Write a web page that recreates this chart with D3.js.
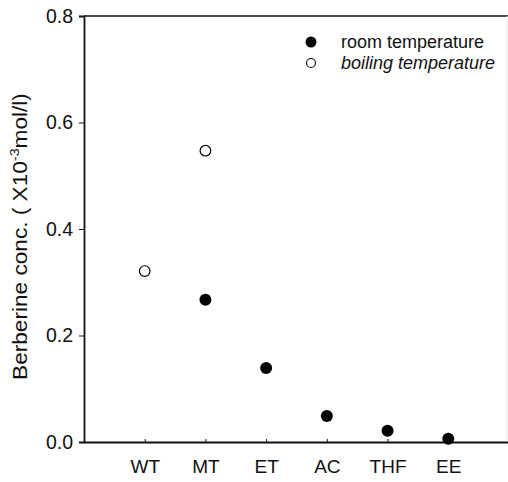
<!DOCTYPE html>
<html><head><meta charset="utf-8">
<script src="https://cdn.jsdelivr.net/npm/d3@7"></script>
<style>body{margin:0;background:#fff}svg{display:block}text{font-family:"Liberation Sans",Arial,sans-serif;fill:#111}</style>
</head><body>
<svg id="c" width="508" height="482"></svg>
<script>
const categories = ["WT","MT","ET","AC","THF","EE"];
const roomTemp = [null, 0.267, 0.139, 0.049, 0.021, 0.006];
const boilingTemp = [0.321, 0.547, null, null, null, null];
const yTicks = [0, 0.2, 0.4, 0.6, 0.8];
const seriesNames = ["room temperature", "boiling temperature"];

const svg = d3.select("#c");
const L = 84, R = 509, T = 16, B = 442;
const x = d3.scaleLinear().domain([0, categories.length + 1]).range([L, R]);
const y = d3.scaleLinear().domain([0, 0.8]).range([B, T]);
const ff = '"Liberation Sans",Arial,sans-serif';

// frame
svg.append("line").attr("x1", L).attr("x2", R).attr("y1", T).attr("y2", T).attr("stroke", "#111").attr("stroke-width", 1.6);
svg.append("line").attr("x1", 507).attr("x2", 507).attr("y1", T).attr("y2", B).attr("stroke", "#e4e4e4").attr("stroke-width", 1);

// y axis
const yAxis = svg.append("g").attr("transform", `translate(${L},0)`)
  .call(d3.axisLeft(y).tickValues(yTicks).tickFormat(d3.format(".1f")).tickSizeOuter(0).tickSize(5).tickPadding(6));
yAxis.select(".domain").attr("stroke", "#111").attr("stroke-width", 1.8);
yAxis.selectAll(".tick line").attr("stroke", "#111");
yAxis.selectAll("text").attr("font-size", 19.5).attr("fill", "#111").style("font-family", ff);

// x axis
const xAxis = svg.append("g").attr("transform", `translate(0,${B})`)
  .call(d3.axisBottom(x).tickValues(d3.range(1, categories.length + 1)).tickFormat(i => categories[i - 1]).tickSizeOuter(0).tickSizeInner(-3).tickPadding(18));
xAxis.select(".domain").attr("stroke", "#111").attr("stroke-width", 1.8);
xAxis.selectAll(".tick line").attr("stroke", "#111");
xAxis.selectAll("text").attr("font-size", 19).attr("fill", "#111").style("font-family", ff);

// y title
const titleG = svg.append("g").attr("transform", `translate(27,236.5) rotate(-90)`);
const title = titleG.append("text").attr("text-anchor", "middle")
  .attr("font-size", 20.5)
  .html('Berberine conc. ( X10<tspan dy="-8" font-size="13">-3</tspan><tspan dy="8">mol/l)</tspan>');
const tw = title.node().getBBox().width;
title.attr("transform", `scale(${287 / tw},1)`);

// points
svg.append("g").selectAll("circle").data(roomTemp.map((v, i) => [i + 1, v]).filter(d => d[1] != null))
  .join("circle").attr("cx", d => x(d[0])).attr("cy", d => y(d[1])).attr("r", 6).attr("fill", "#000");
svg.append("g").selectAll("circle").data(boilingTemp.map((v, i) => [i + 1, v]).filter(d => d[1] != null))
  .join("circle").attr("cx", d => x(d[0])).attr("cy", d => y(d[1])).attr("r", 5.3).attr("fill", "#fff").attr("stroke", "#000").attr("stroke-width", 1.2);

// legend
const lg = svg.append("g");
lg.append("circle").attr("cx", 311).attr("cy", 42).attr("r", 5.5).attr("fill", "#000");
lg.append("circle").attr("cx", 311).attr("cy", 63).attr("r", 4.5).attr("fill", "#fff").attr("stroke", "#000").attr("stroke-width", 1.1);
lg.append("text").attr("x", 341).attr("y", 48).attr("font-size", 18).text(seriesNames[0]);
lg.append("text").attr("x", 341).attr("y", 69).attr("font-size", 18).attr("font-style", "italic").text(seriesNames[1]);
</script>
</body></html>
